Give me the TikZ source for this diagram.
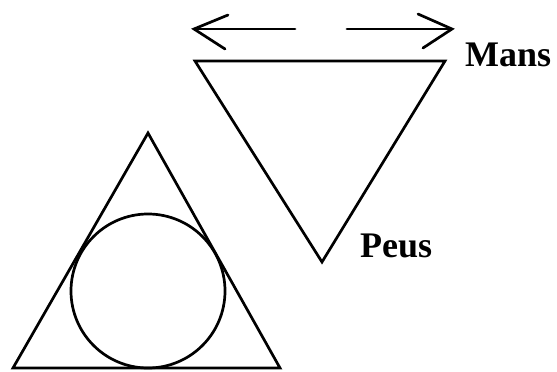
\documentclass[tikz,border=0pt]{standalone}
\usepackage{fontspec}
\setmainfont{Liberation Serif}
\begin{document}
\begin{tikzpicture}[x=1pt,y=-1pt,line join=miter,
  outl/.style={draw=black,line width=2.7pt},
  lbl/.style={font=\fontsize{36}{36}\selectfont\bfseries,inner sep=0pt,anchor=base west}]
\useasboundingbox (0,0) rectangle (557,372);
% small triangle with inscribed circle
\draw[outl] (148,133) -- (280,368) -- (13,368) -- cycle;
\draw[outl] (148,291) circle[radius=77];
% inverted triangle
\draw[outl] (195,61) -- (445,61) -- (322,262) -- cycle;
% arrows
\draw[outl,line cap=round] (295,29) -- (194,29);
\draw[outl,line cap=round] (228,15) -- (194,29) -- (225,49);
\draw[outl,line cap=round] (347,29) -- (452,29);
\draw[outl,line cap=round] (418,14) -- (452,29) -- (423,48);
% labels
\node[lbl] (mans) at (465,66) {Mans};
\node[lbl] (peus) at (360,257) {Peus};
\end{tikzpicture}
\end{document}
